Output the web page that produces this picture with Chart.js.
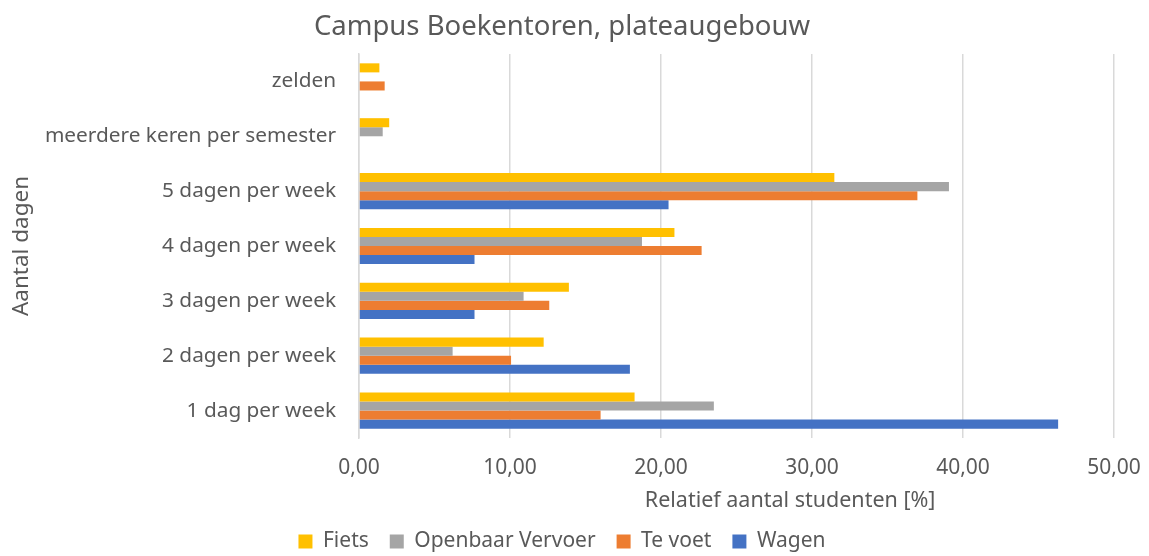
<!DOCTYPE html>
<html>
<head>
<meta charset="utf-8">
<script src="https://cdn.jsdelivr.net/npm/chart.js@4.4.1/dist/chart.umd.min.js"></script>
<style>
    html, body { margin: 0; padding: 0; background: #ffffff; }
    #wrap { width: 1149px; height: 556px; }
</style>
</head>
<body>
<div id="wrap"><canvas id="freq-graph-canv"></canvas></div>
<script>
const labels = [
    'zelden',
    'meerdere keren per semester',
    '5 dagen per week',
    '4 dagen per week',
    '3 dagen per week',
    '2 dagen per week',
    '1 dag per week',
];

const fiets = [1.35, 2.0, 31.48, 20.89, 13.9, 12.23, 18.25];
const openbaarVervoer = [0, 1.57, 39.07, 18.74, 10.9, 6.2, 23.5];
const teVoet = [1.7, 0, 36.98, 22.69, 12.6, 10.07, 16.0];
const wagen = [0, 0, 20.5, 7.65, 7.65, 17.94, 46.3];

const xTicks = [0, 10, 20, 30, 40, 50];

const fontFam = "'Noto Sans', 'Liberation Sans', sans-serif";
const grey_text = '#595959';
const grid_grey = '#d9d9d9';

// x axis title sits a bit right of the plot centre, so it is drawn here
const xTitlePlugin = {
    id: 'xTitle',
    afterDraw(chart) {
        const ctx = chart.ctx;
        const area = chart.chartArea;
        ctx.save();
        ctx.font = "21.5px " + fontFam;
        ctx.fillStyle = grey_text;
        ctx.textAlign = 'center';
        ctx.textBaseline = 'middle';
        ctx.fillText('Relatief aantal studenten [%]', area.left + area.width * 0.571, area.bottom + 63);
        ctx.restore();
    }
};

const data = {
    labels: labels,
    datasets: [
        { label: 'Fiets', data: fiets, backgroundColor: '#FFC000' },
        { label: 'Openbaar Vervoer', data: openbaarVervoer, backgroundColor: '#A5A5A5' },
        { label: 'Te voet', data: teVoet, backgroundColor: '#ED7D31' },
        { label: 'Wagen', data: wagen, backgroundColor: '#4472C4' },
    ]
};

const config = {
    type: 'bar',
    data,
    plugins: [xTitlePlugin],
    options: {
        indexAxis: 'y',
        animation: false,
        responsive: true,
        maintainAspectRatio: false,
        datasets: {
            bar: {
                categoryPercentage: 0.66,
                barPercentage: 1.0,
                borderWidth: 0
            }
        },
        layout: {
            padding: { top: 0, left: 10, right: 35, bottom: -6 }
        },
        scales: {
            x: {
                min: 0,
                max: 50,
                afterBuildTicks: (s) => { s.ticks = xTicks.map(v => ({ value: v })); },
                afterFit: (s) => {
                    s.height = 72;
                    s.paddingLeft = 0;
                    s.paddingRight = 0;
                },
                grid: {
                    display: true,
                    drawTicks: false,
                    color: grid_grey,
                    lineWidth: 1.5
                },
                border: { display: false },
                ticks: {
                    padding: 17,
                    color: grey_text,
                    font: { size: 21, family: fontFam },
                    callback: (v) => v.toFixed(2).replace('.', ',')
                }
            },
            y: {
                grid: { display: false, drawTicks: false },
                border: { display: true, color: grid_grey, width: 1.5 },
                ticks: {
                    padding: 23,
                    color: grey_text,
                    font: { size: 20.8, family: fontFam }
                },
                title: {
                    display: true,
                    text: 'Aantal dagen',
                    color: grey_text,
                    font: { size: 22.5, family: fontFam },
                    padding: { top: -1.5, bottom: 0 }
                },
                afterFit: (s) => { s.width = 349; }
            }
        },
        plugins: {
            title: {
                display: true,
                text: 'Campus Boekentoren, plateaugebouw',
                color: grey_text,
                font: { size: 27.5, weight: 'normal', family: fontFam },
                padding: { top: 11, bottom: 10 }
            },
            legend: {
                position: 'bottom',
                labels: {
                    color: grey_text,
                    font: { size: 21, family: fontFam },
                    boxWidth: 14,
                    boxHeight: 14,
                    padding: 21
                }
            },
            tooltip: { enabled: false }
        }
    }
};

new Chart(document.getElementById('freq-graph-canv'), config);
</script>
</body>
</html>
